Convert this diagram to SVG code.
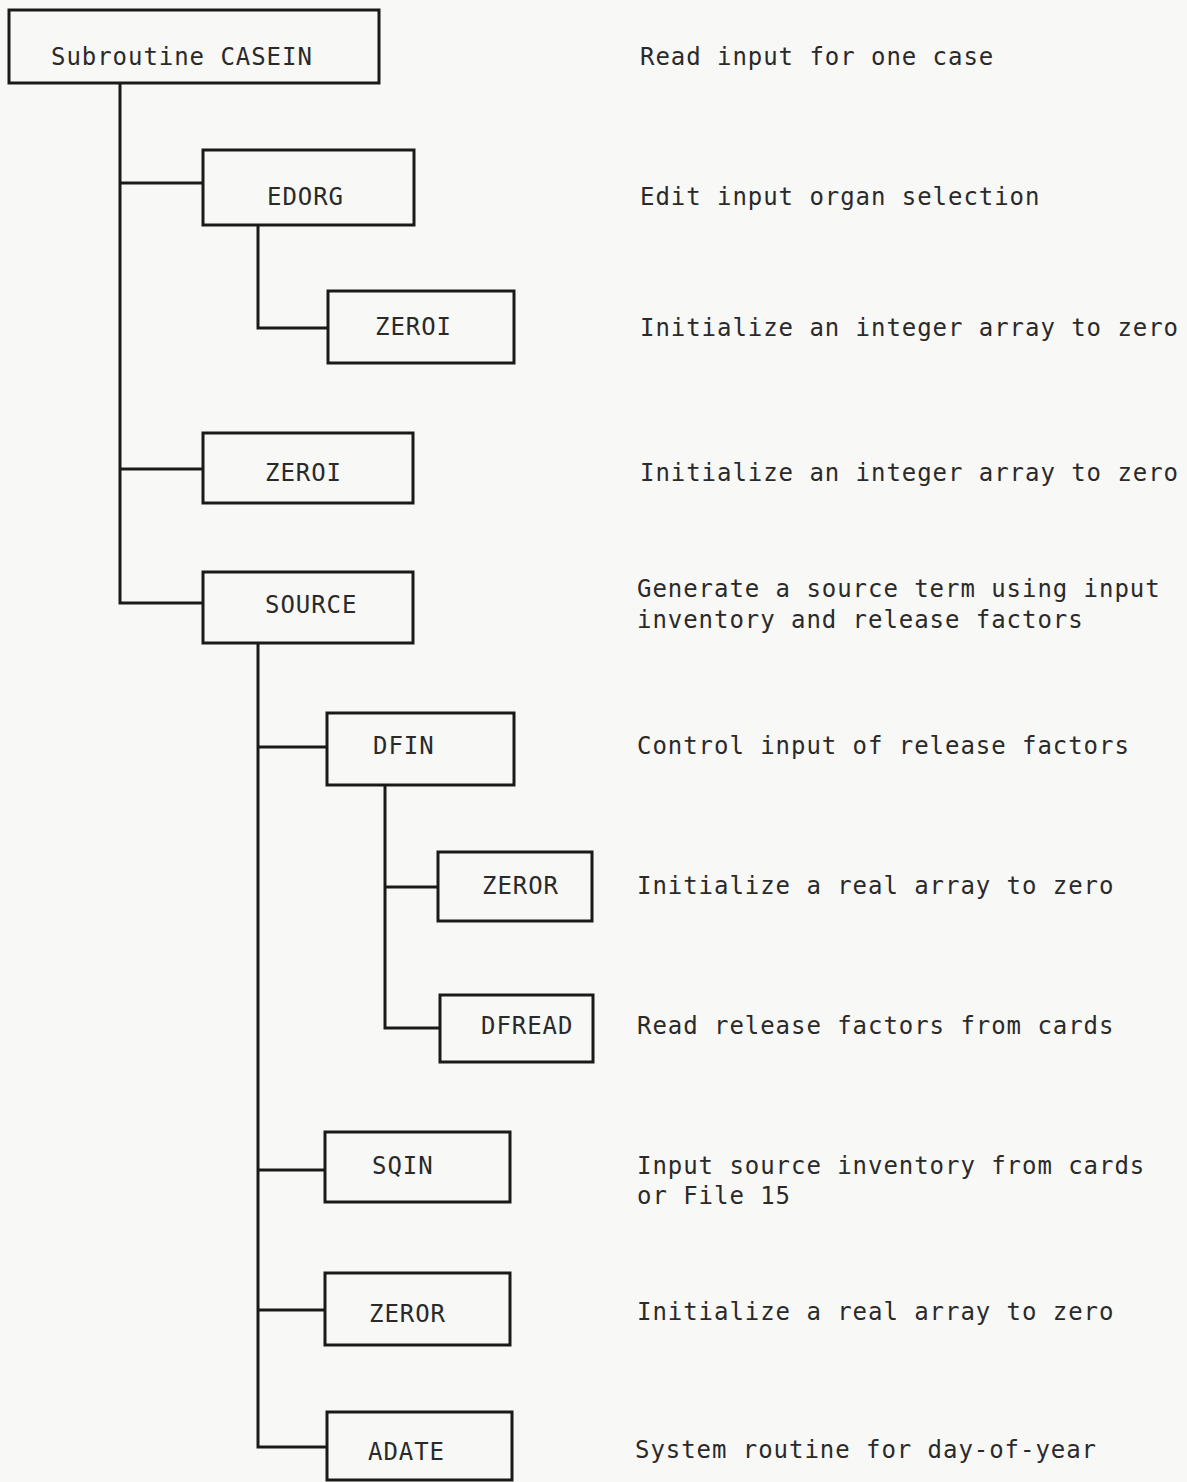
<svg xmlns="http://www.w3.org/2000/svg" width="1187" height="1482" viewBox="0 0 1187 1482">
<style>
.box{fill:none;stroke:#1a1a1a;stroke-width:3}
.ln{fill:none;stroke:#1a1a1a;stroke-width:3}
text{font-family:"DejaVu Sans Mono","Liberation Mono",monospace;font-size:24px;letter-spacing:0.95px;fill:#2a2a2a}
</style>
<rect width="1187" height="1482" fill="#f8f8f6"/>
<g id="connectors">
<path class="ln" d="M120,83 V603 H203 M120,183 H203 M120,469 H203"/>
<path class="ln" d="M258,226 V328 H328"/>
<path class="ln" d="M258,643 V1447 H327 M258,747 H327 M258,1170 H325 M258,1310 H325"/>
<path class="ln" d="M385,785 V1028 H440 M385,887 H438"/>
</g>
<g id="casein"><rect class="box" x="9" y="10" width="370" height="73"/><text x="51" y="65">Subroutine CASEIN</text></g>
<g id="edorg"><rect class="box" x="203" y="150" width="211" height="75"/><text x="267" y="205">EDORG</text></g>
<g id="zeroi1"><rect class="box" x="328" y="291" width="186" height="72"/><text x="375" y="335">ZEROI</text></g>
<g id="zeroi2"><rect class="box" x="203" y="433" width="210" height="70"/><text x="265" y="481">ZEROI</text></g>
<g id="source"><rect class="box" x="203" y="572" width="210" height="71"/><text x="265" y="613">SOURCE</text></g>
<g id="dfin"><rect class="box" x="327" y="713" width="187" height="72"/><text x="373" y="754">DFIN</text></g>
<g id="zeror1"><rect class="box" x="438" y="852" width="154" height="69"/><text x="482" y="894">ZEROR</text></g>
<g id="dfread"><rect class="box" x="440" y="995" width="153" height="67"/><text x="481" y="1034">DFREAD</text></g>
<g id="sqin"><rect class="box" x="325" y="1132" width="185" height="70"/><text x="372" y="1174">SQIN</text></g>
<g id="zeror2"><rect class="box" x="325" y="1273" width="185" height="72"/><text x="369" y="1322">ZEROR</text></g>
<g id="adate"><rect class="box" x="327" y="1412" width="185" height="68"/><text x="368" y="1460">ADATE</text></g>
<g id="descriptions">
<text x="640" y="65">Read input for one case</text>
<text x="640" y="205">Edit input organ selection</text>
<text x="640" y="336">Initialize an integer array to zero</text>
<text x="640" y="481">Initialize an integer array to zero</text>
<text x="637" y="597">Generate a source term using input</text>
<text x="637" y="628">inventory and release factors</text>
<text x="637" y="754">Control input of release factors</text>
<text x="637" y="894">Initialize a real array to zero</text>
<text x="637" y="1034">Read release factors from cards</text>
<text x="637" y="1174">Input source inventory from cards</text>
<text x="637" y="1204">or File 15</text>
<text x="637" y="1320">Initialize a real array to zero</text>
<text x="635" y="1458">System routine for day-of-year</text>
</g>
</svg>
